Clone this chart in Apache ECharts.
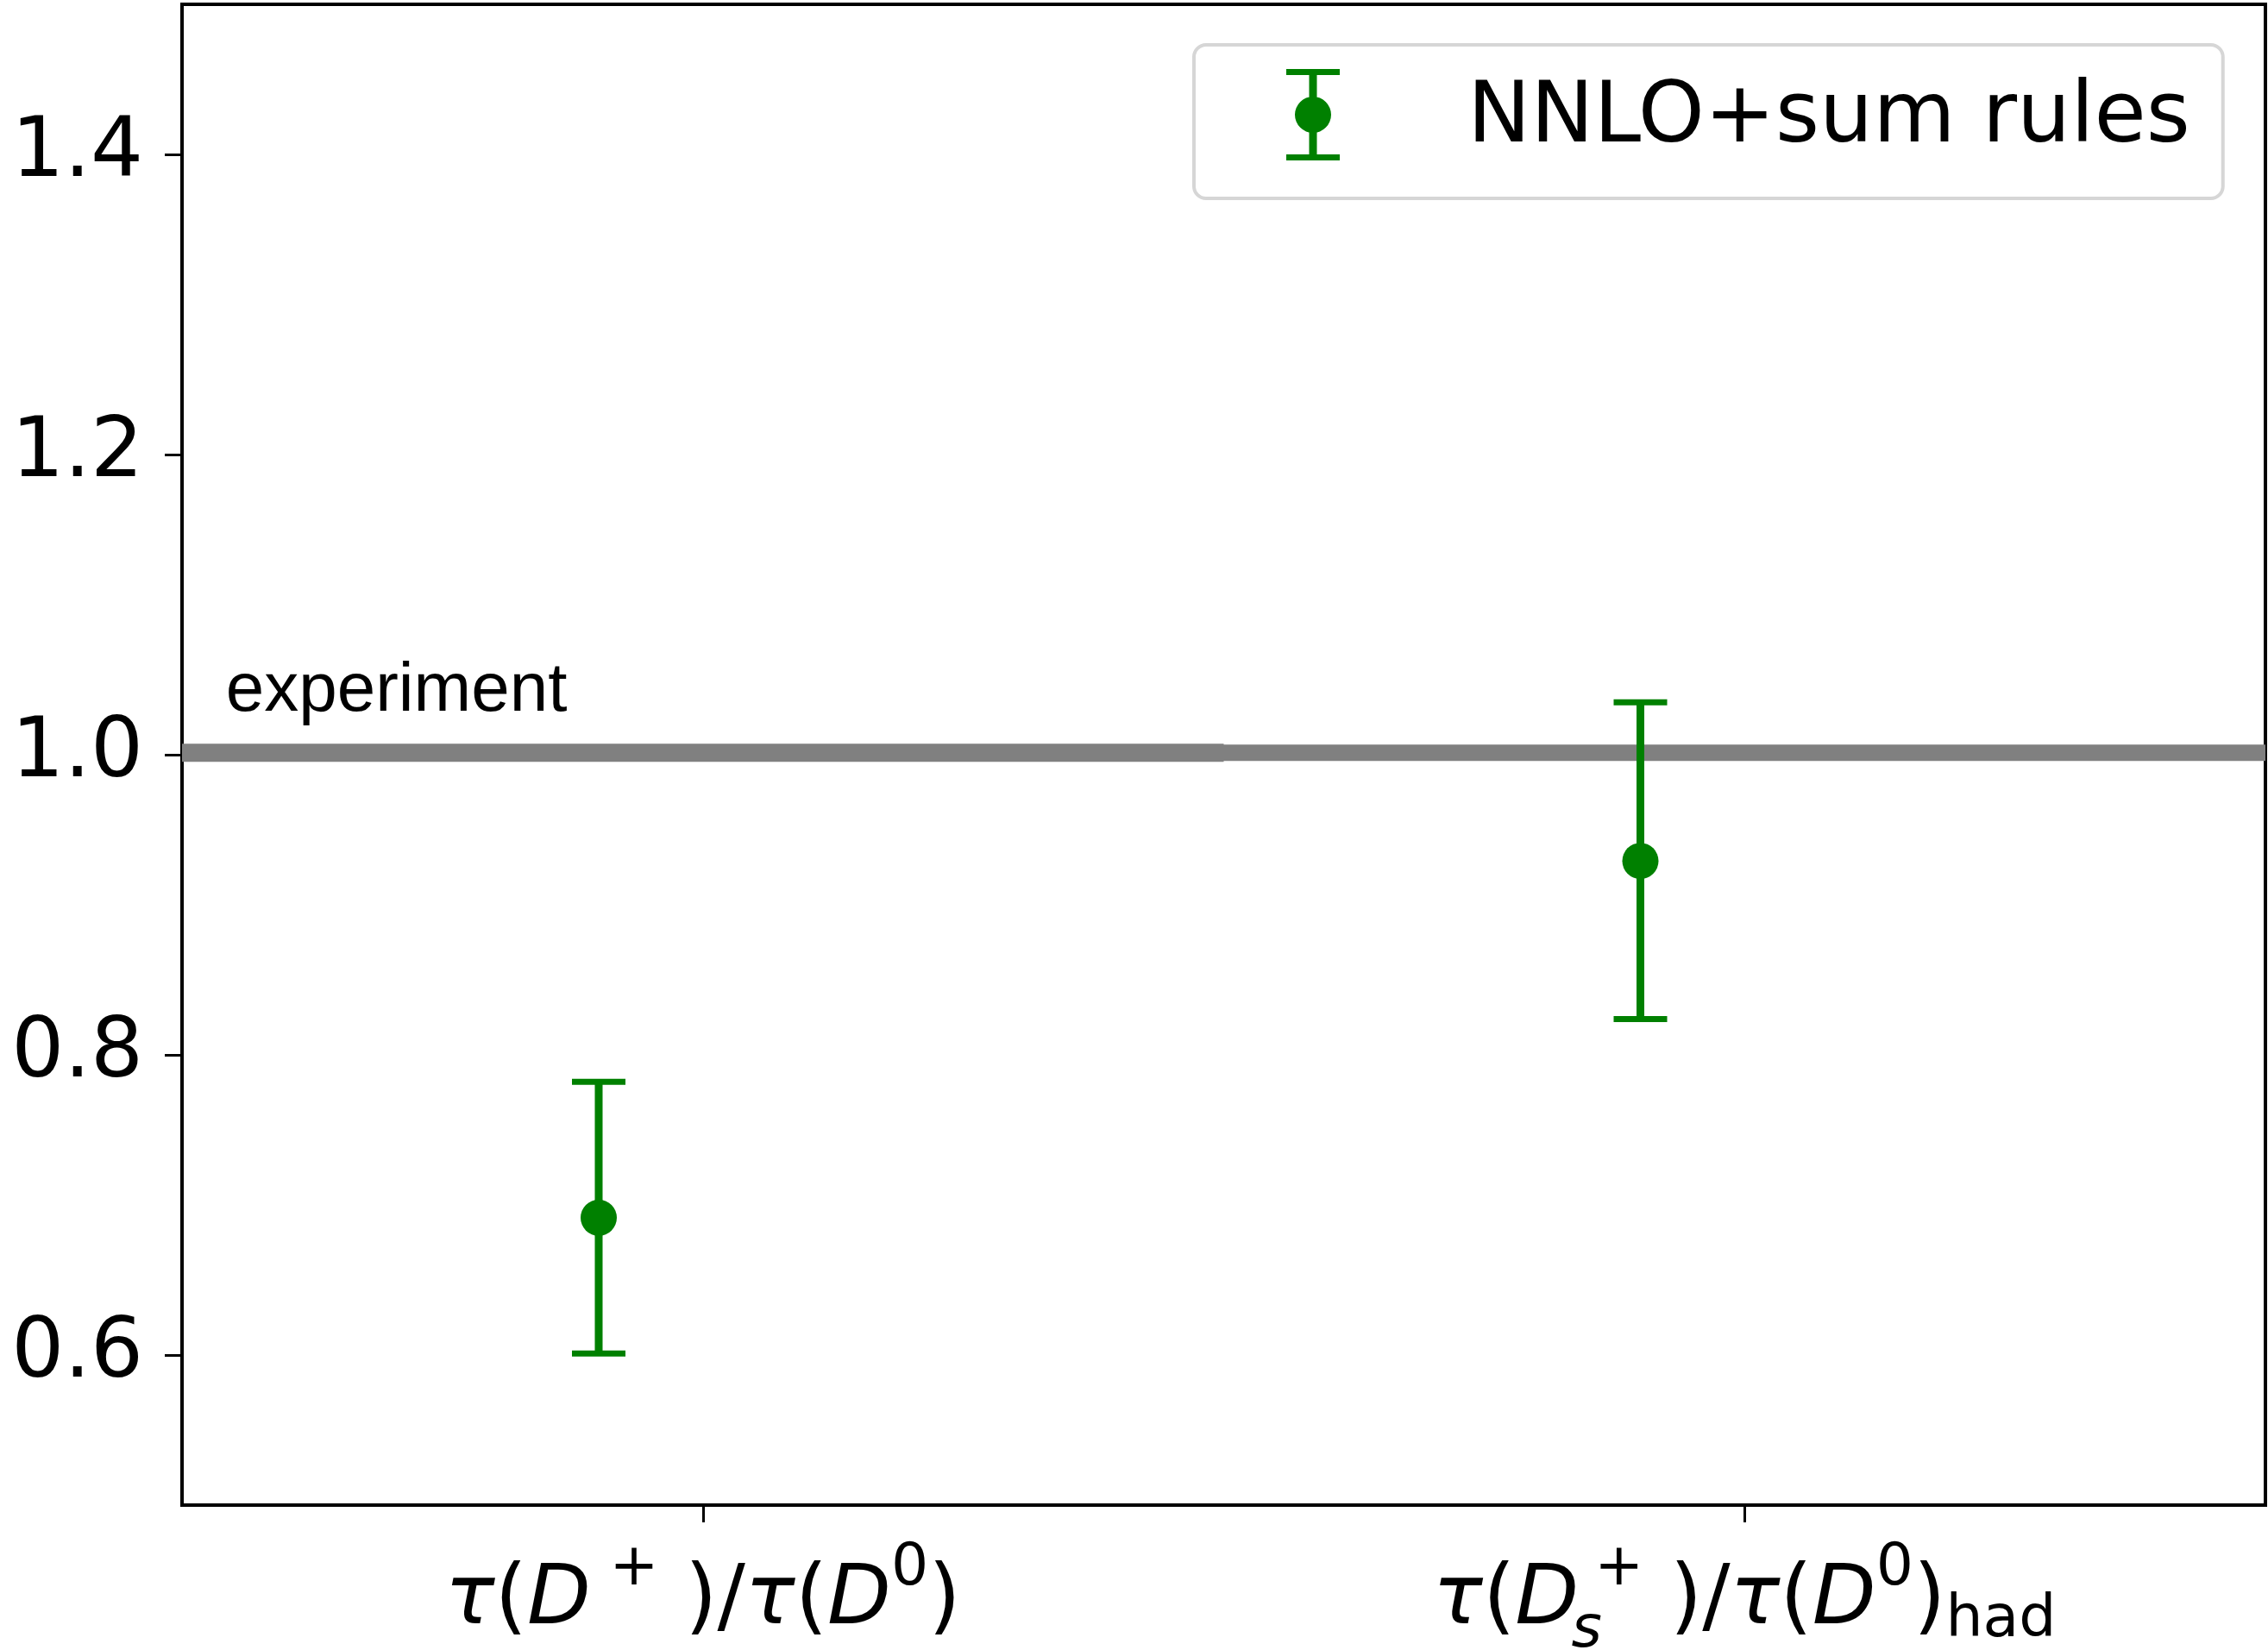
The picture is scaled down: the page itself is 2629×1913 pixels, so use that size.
<!DOCTYPE html>
<html><head><meta charset="utf-8">
<script src="https://cdn.jsdelivr.net/npm/echarts@6/dist/echarts.min.js"></script>
<style>html,body{margin:0;padding:0;background:#fff}#c{width:2629px;height:1913px}</style>
</head><body><div id="c"></div>
<script>
// ---- data ----
const seriesName = 'NNLO+sum rules';
const pointX = [-0.1, 0.9];
const pointY = [0.6915, 0.9292];
const errLow = [0.601, 0.8239];
const errHigh = [0.782, 1.0349];
const xTickValues = [0, 1];
const xTickLabels = [
  '{t|τ}{n|(}{i|D}{sup| +}{n| )/}{t|τ}{n|(}{i|D}{sup|0}{n|)}',
  '{t|τ}{n|(}{i|D}{sub|s}{sup|+}{n| )/}{t|τ}{n|(}{i|D}{sup|0}{n|)}{had|had}'
];
const yTickValues = [0.6, 0.8, 1.0, 1.2, 1.4];
const expX0 = [-0.6, 0.4];
const expX1 = [0.5, 1.6];
const expLow = [0.9952, 0.9958];
const expHigh = [1.0073, 1.0067];
const expLabel = 'experiment';
const expLabelX = [-0.458];
const expLabelY = [1.019];

const GREEN = '#008000', GRAY = '#808080';
const MATH = "'DejaVu Sans'";

const chart = echarts.init(document.getElementById('c'), null, {renderer: 'canvas'});
// error-bar legend glyph; the trailing move-to pads the box below so the glyph sits higher
const iconPath = 'path://M0,0H62V7H0Z M26.5,0H35.5V106H26.5Z M0,99H62V106H0Z M31,32A21,21 0 1 1 31,74A21,21 0 1 1 31,32Z M31,117';

chart.setOption({
  animation: false,
  backgroundColor: '#fff',
  grid: {left: 211, right: 3, top: 5, bottom: 168, show: true, borderColor: '#000', borderWidth: 4, backgroundColor: 'transparent', containLabel: false, outerBoundsMode: 'none'},
  legend: {
    data: [{name: seriesName, icon: iconPath}],
    left: 1384, top: 52,
    padding: [28, 38, 33, 107],
    itemWidth: 62, itemHeight: 117,
    backgroundColor: '#fff', borderColor: '#d6d6d6', borderWidth: 4, borderRadius: 14,
    selectedMode: false,
    itemStyle: {color: GREEN, borderWidth: 0},
    textStyle: {fontSize: 98, fontFamily: MATH, color: '#000', padding: [0, 0, 0, 143]}
  },
  xAxis: {
    type: 'value', min: -0.5, max: 1.5,
    splitLine: {show: false},
    axisLine: {show: true, onZero: false, lineStyle: {color: '#000', width: 4}},
    axisTick: {show: true, customValues: xTickValues, length: 20, lineStyle: {color: '#000', width: 3}},
    axisLabel: {
      customValues: xTickValues, margin: 40, color: '#000',
      formatter: v => xTickLabels[xTickValues.indexOf(Math.round(v))],
      rich: {
        n: {fontSize: 96, fontFamily: MATH, lineHeight: 120, verticalAlign: 'bottom', color: '#000'},
        t: {fontSize: 96, fontFamily: MATH, fontStyle: 'italic', lineHeight: 120, verticalAlign: 'bottom', color: '#000'},
        i: {fontSize: 96, fontFamily: MATH, fontStyle: 'italic', lineHeight: 120, verticalAlign: 'bottom', color: '#000'},
        sup: {fontSize: 68, fontFamily: MATH, lineHeight: 82, verticalAlign: 'top', color: '#000'},
        sub: {fontSize: 68, fontFamily: MATH, fontStyle: 'italic', lineHeight: 10, verticalAlign: 'top', padding: [72, 0, 0, 0], width: 18, color: '#000'},
        had: {fontSize: 68, fontFamily: MATH, lineHeight: 10, verticalAlign: 'top', padding: [60, 0, 0, 0], color: '#000'}
      }
    }
  },
  yAxis: {
    type: 'value', min: 0.5, max: 1.5,
    splitLine: {show: false},
    axisLine: {show: true, onZero: false, lineStyle: {color: '#000', width: 4}},
    axisTick: {show: true, customValues: yTickValues, length: 20, lineStyle: {color: '#000', width: 3}},
    axisLabel: {customValues: yTickValues, formatter: v => v.toFixed(1), fontSize: 96, fontFamily: MATH, color: '#000', margin: 45}
  },
  series: [
    {
      name: 'experiment band', type: 'custom', clip: true, z: 1, silent: true,
      data: expX0.map((x, i) => [x, expX1[i], expLow[i], expHigh[i]]),
      encode: {x: [0, 1], y: [2, 3]},
      renderItem(params, api) {
        const a = api.coord([api.value(0), api.value(3)]);
        const b = api.coord([api.value(1), api.value(2)]);
        return {type: 'rect', shape: {x: a[0], y: a[1], width: b[0] - a[0], height: b[1] - a[1]}, style: {fill: GRAY}};
      }
    },
    {
      name: 'experiment label', type: 'custom', z: 2, silent: true,
      data: expLabelX.map((x, i) => [x, expLabelY[i]]),
      encode: {x: 0, y: 1},
      renderItem(params, api) {
        const p = api.coord([api.value(0), api.value(1)]);
        return {type: 'text', x: p[0], y: p[1], style: {text: expLabel, fill: '#000', font: "80px 'Liberation Sans', Arial, sans-serif", textAlign: 'left', textVerticalAlign: 'bottom'}};
      }
    },
    {
      name: seriesName, type: 'custom', z: 5, itemStyle: {color: GREEN},
      data: pointX.map((x, i) => [x, pointY[i], errLow[i], errHigh[i]]),
      encode: {x: 0, y: [1, 2, 3]},
      renderItem(params, api) {
        const x = api.value(0);
        const pHi = api.coord([x, api.value(3)]);
        const pLo = api.coord([x, api.value(2)]);
        const pC = api.coord([x, api.value(1)]);
        const cw = 31;
        return {type: 'group', children: [
          {type: 'line', shape: {x1: pHi[0], y1: pHi[1], x2: pLo[0], y2: pLo[1]}, style: {stroke: GREEN, lineWidth: 9}},
          {type: 'line', shape: {x1: pHi[0] - cw, y1: pHi[1], x2: pHi[0] + cw, y2: pHi[1]}, style: {stroke: GREEN, lineWidth: 7}},
          {type: 'line', shape: {x1: pLo[0] - cw, y1: pLo[1], x2: pLo[0] + cw, y2: pLo[1]}, style: {stroke: GREEN, lineWidth: 7}},
          {type: 'circle', shape: {cx: pC[0], cy: pC[1], r: 21}, style: {fill: GREEN}}
        ]};
      }
    }
  ]
});
</script></body></html>
